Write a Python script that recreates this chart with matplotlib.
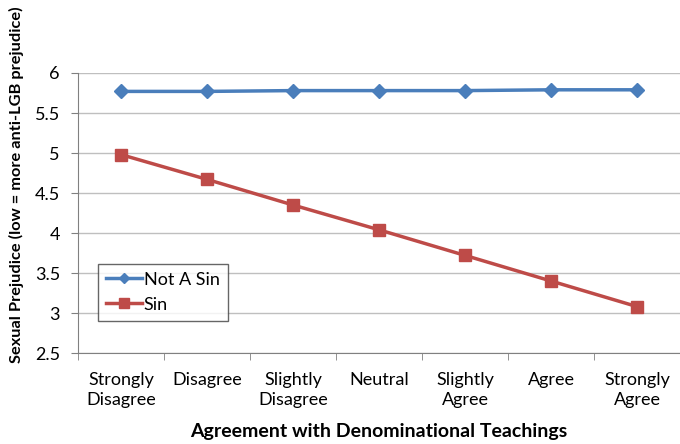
import numpy as np
import matplotlib.pyplot as plt

# Datos
categorias = ['Strongly\nDisagree', 'Disagree', 'Slightly\nDisagree', 'Neutral',
              'Slightly\nAgree', 'Agree', 'Strongly\nAgree']
no_pecado = [5.77, 5.77, 5.78, 5.78, 5.78, 5.79, 5.79]
pecado = [4.98, 4.67, 4.35, 4.04, 3.72, 3.40, 3.08]

plt.rcParams['font.family'] = ['Lato', 'DejaVu Sans']

fig = plt.figure(figsize=(6.8, 4.44), dpi=100)
ax = fig.add_axes([78 / 680, 1 - 353 / 444, 602 / 680, 280 / 444])

x = np.arange(len(categorias))
ax.plot(x, no_pecado, color='#4A7EBB', marker='D', markersize=7, linewidth=2.5, label='Not A Sin')
ax.plot(x, pecado, color='#BE4B48', marker='s', markersize=9, linewidth=2.5, label='Sin')

ax.set_xlim(-0.5, len(categorias) - 0.5)
ax.set_ylim(2.5, 6)
ax.set_yticks(np.arange(2.5, 6.01, 0.5))
ax.set_yticklabels(['2.5', '3', '3.5', '4', '4.5', '5', '5.5', '6'], fontsize=13)
ax.set_xticks(x)
ax.set_xticklabels(categorias, fontsize=13, linespacing=1.3)
ax.tick_params(axis='x', length=0, pad=14)
ax.set_xticks(np.arange(-0.5, len(categorias), 1), minor=True)
ax.tick_params(axis='x', which='minor', length=5, direction='out', color='#808080')
ax.tick_params(axis='y', length=5, direction='out', color='#808080', pad=8)

ax.grid(axis='y', color='#BFBFBF', linewidth=1)
ax.set_axisbelow(True)
for lado in ['top', 'right']:
    ax.spines[lado].set_visible(False)
for lado in ['left', 'bottom']:
    ax.spines[lado].set_color('#808080')

ax.set_ylabel('Sexual Prejudice (low = more anti-LGB prejudice)', fontsize=11.8, fontweight='bold')
ax.yaxis.set_label_coords(-0.09, 0.6)
ax.set_xlabel('Agreement with Denominational Teachings', fontsize=14, fontweight='bold')
ax.xaxis.set_label_coords(0.5, -0.25)

leg = ax.legend(loc='lower left', bbox_to_anchor=(0.033, 0.115), fontsize=13, frameon=True,
                fancybox=False, edgecolor='#404040', handlelength=2.0, handletextpad=0.1,
                borderpad=0.45, borderaxespad=0, markerscale=0.8, labelspacing=0.5)
leg.get_frame().set_linewidth(1)

fig.savefig('out.png', dpi=100)
